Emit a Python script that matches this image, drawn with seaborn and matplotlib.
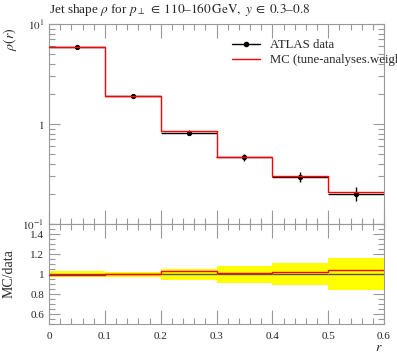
import numpy as np
import pandas as pd
import matplotlib
matplotlib.use("Agg")
import matplotlib.pyplot as plt
import seaborn as sns
from matplotlib.lines import Line2D
from matplotlib.ticker import FixedLocator, MultipleLocator, LogLocator, NullFormatter, FixedFormatter

# ---- data ----
bin_edges = [0.0, 0.1, 0.2, 0.3, 0.4, 0.5, 0.6]
data_vals = [5.93, 1.92, 0.818, 0.464, 0.297, 0.201]
data_relerr = [0.027, 0.025, 0.055, 0.085, 0.107, 0.16]
mc_ratio = [0.995, 1.0, 1.03, 1.015, 1.025, 1.04]
x_tick_labels = ["0", "0.1", "0.2", "0.3", "0.4", "0.5", "0.6"]
ratio_ticks = [0.6, 0.8, 1.0, 1.2, 1.4]
ratio_tick_labels = ["0.6", "0.8", "1", "1.2", "1.4"]

title_text = (r"Jet shape $\rho$ for $p_\perp \;\in\; \mathrm{110–160\,GeV},\ "
              r"y \;\in\; \mathrm{0.3–0.8}$")
data_label = "ATLAS data"
mc_label = "MC (tune-analyses.weights)"

sns.set_style("ticks")
plt.rcParams["font.family"] = ["Liberation Serif", "DejaVu Serif"]
plt.rcParams["mathtext.fontset"] = "stix"

edges = np.array(bin_edges)
centers = 0.5 * (edges[:-1] + edges[1:])
halfw = 0.5 * np.diff(edges)
dv = np.array(data_vals)
derr = dv * np.array(data_relerr)
mc = dv * np.array(mc_ratio)

W, H = 397, 358
fig = plt.figure(figsize=(W / 100, H / 100), dpi=100)
L, R = 49 / W, 384 / W
ax = fig.add_axes([L, 1 - 224 / H, R - L, 200 / H])
axr = fig.add_axes([L, 1 - 324 / H, R - L, 100 / H], sharex=ax)

grey = "#999999"

# main panel
step_df = pd.DataFrame({"r": edges, "v": np.append(mc, mc[-1])})
sns.lineplot(data=step_df, x="r", y="v", drawstyle="steps-post", color="red",
             lw=1.0, ax=ax, zorder=3, legend=False)
ax.errorbar(centers, dv, xerr=halfw, yerr=derr, fmt="o", color="black",
            ms=2.8, lw=1.0, capsize=0, zorder=2)
ax.set_yscale("log")
ax.set_ylim(0.1, 10)
ax.set_xlim(0, 0.6)
ax.yaxis.set_major_locator(FixedLocator([0.1, 1, 10]))
ax.yaxis.set_major_formatter(FixedFormatter([r"$10^{-1}$", r"$1$", r"$10^{1}$"]))
ax.yaxis.set_minor_locator(LogLocator(base=10, subs=np.arange(2, 10)))
ax.yaxis.set_minor_formatter(NullFormatter())
ax.set_xlabel("")
ax.set_ylabel(r"$\rho(r)$", fontsize=10, loc="top")
plt.setp(ax.get_xticklabels(), visible=False)
handles = [Line2D([], [], color="black", lw=1.0, marker="o", ms=3),
           Line2D([], [], color="red", lw=1.0)]
ax.legend(handles, [data_label, mc_label], loc="upper left",
          bbox_to_anchor=(0.53, 0.95), frameon=False, fontsize=9.2,
          handlelength=2.2, handletextpad=0.8, borderaxespad=0, labelspacing=0.25)
fig.text(L, 1 - 10 / H, title_text, fontsize=9.5, va="center", ha="left")

# ratio panel
band_lo = np.append(1 - np.array(data_relerr), 1 - data_relerr[-1])
band_hi = np.append(1 + np.array(data_relerr), 1 + data_relerr[-1])
axr.fill_between(edges, band_lo, band_hi, step="post", color="#ffff00", lw=0, zorder=1)
axr.hlines(np.ones_like(centers), edges[:-1], edges[1:], color="#555555", lw=1.0, zorder=2)
ratio_df = pd.DataFrame({"r": edges, "v": np.append(mc_ratio, mc_ratio[-1])})
sns.lineplot(data=ratio_df, x="r", y="v", drawstyle="steps-post", color="red",
             lw=1.0, ax=axr, zorder=3, legend=False)
axr.set_ylim(0.5, 1.5)
axr.yaxis.set_major_locator(FixedLocator(ratio_ticks))
axr.yaxis.set_major_formatter(FixedFormatter(ratio_tick_labels))
axr.yaxis.set_minor_locator(MultipleLocator(0.05))
axr.set_xticks(bin_edges)
axr.set_xticklabels(x_tick_labels)
axr.xaxis.set_minor_locator(MultipleLocator(0.02))
axr.set_xlim(0, 0.6)
axr.set_ylabel("MC/data", fontsize=10)
axr.set_xlabel(r"$r$", fontsize=10, loc="right")

for a in (ax, axr):
    for s in a.spines.values():
        s.set_visible(True)
        s.set_color(grey)
        s.set_linewidth(0.8)
    a.tick_params(which="both", direction="in", top=True, right=True, color=grey,
                  labelsize=8, width=0.8)
    a.tick_params(which="major", length=8)
    a.tick_params(which="minor", length=4)
ax.tick_params(axis="x", which="major", length=10)
axr.tick_params(axis="x", which="major", length=10, pad=6)
ax.yaxis.set_label_coords(-0.09, 0.985)
axr.yaxis.set_label_coords(-0.1, 0.5)
axr.xaxis.set_label_coords(0.995, -0.17)

fig.savefig("out.png", dpi=100)
